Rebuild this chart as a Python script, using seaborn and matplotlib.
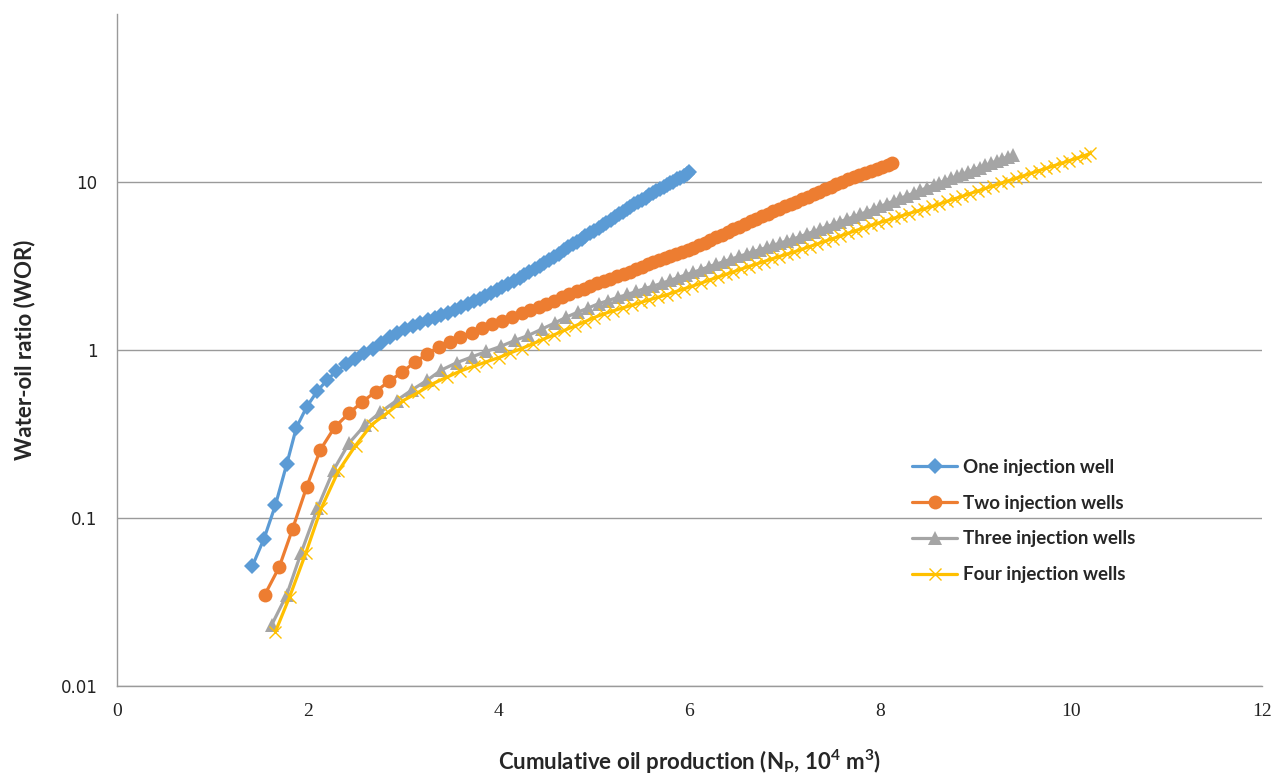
import numpy as np
import pandas as pd
import matplotlib
matplotlib.use('Agg')
import matplotlib.pyplot as plt
from matplotlib.ticker import FixedLocator, FixedFormatter, NullLocator
import seaborn as sns

# cumulative oil production (10^4 m3) and water-oil ratio
x_one = [1.42, 1.54, 1.66, 1.78, 1.88, 1.99, 2.10, 2.20, 2.30, 2.40, 2.49, 2.59, 2.68,
         2.77, 2.86, 2.94, 3.02, 3.10, 3.18, 3.26, 3.33, 3.40, 3.47, 3.54, 3.61, 3.68,
         3.74, 3.80, 3.86, 3.92, 3.98, 4.04, 4.10, 4.16, 4.22, 4.27, 4.32, 4.38, 4.43,
         4.48, 4.53, 4.58, 4.63, 4.68, 4.73, 4.78, 4.82, 4.87, 4.91, 4.96, 5.00, 5.05,
         5.09, 5.13, 5.18, 5.22, 5.26, 5.30, 5.34, 5.38, 5.42, 5.46, 5.50, 5.54, 5.58,
         5.62, 5.65, 5.69, 5.73, 5.76, 5.80, 5.83, 5.87, 5.90, 5.94, 5.97, 6.00]
wor_one = [0.052, 0.075, 0.119, 0.21, 0.345, 0.46, 0.57, 0.66, 0.75, 0.82, 0.89, 0.96, 1.02,
           1.10, 1.19, 1.27, 1.33, 1.39, 1.44, 1.50, 1.55, 1.61, 1.67, 1.74, 1.81, 1.88,
           1.95, 2.02, 2.10, 2.18, 2.28, 2.38, 2.48, 2.59, 2.70, 2.80, 2.91, 3.04, 3.16,
           3.28, 3.41, 3.56, 3.73, 3.94, 4.10, 4.27, 4.42, 4.60, 4.76, 4.95, 5.12, 5.32,
           5.52, 5.72, 5.98, 6.20, 6.43, 6.66, 6.90, 7.12, 7.36, 7.60, 7.85, 8.08, 8.33,
           8.58, 8.78, 9.04, 9.31, 9.55, 9.84, 10.06, 10.35, 10.57, 10.88, 11.12, 11.40]

x_two = [1.55, 1.70, 1.84, 1.99, 2.13, 2.28, 2.43, 2.57, 2.71, 2.85, 2.99, 3.12, 3.25,
         3.37, 3.49, 3.60, 3.72, 3.83, 3.93, 4.04, 4.14, 4.24, 4.33, 4.42, 4.50, 4.58,
         4.66, 4.74, 4.82, 4.89, 4.96, 5.03, 5.10, 5.17, 5.24, 5.31, 5.38, 5.44, 5.50,
         5.56, 5.62, 5.68, 5.74, 5.80, 5.86, 5.92, 5.98, 6.04, 6.10, 6.16, 6.22, 6.28,
         6.34, 6.40, 6.46, 6.52, 6.58, 6.64, 6.70, 6.76, 6.82, 6.88, 6.94, 7.00, 7.06,
         7.12, 7.18, 7.24, 7.30, 7.36, 7.42, 7.48, 7.54, 7.60, 7.66, 7.72, 7.78, 7.84,
         7.90, 7.96, 8.02, 8.08, 8.12]
wor_two = [0.035, 0.051, 0.086, 0.154, 0.254, 0.346, 0.42, 0.49, 0.565, 0.65, 0.74, 0.845, 0.946,
           1.04, 1.12, 1.20, 1.27, 1.35, 1.42, 1.49, 1.58, 1.65, 1.73, 1.81, 1.89, 1.97,
           2.06, 2.15, 2.24, 2.32, 2.40, 2.49, 2.58, 2.66, 2.74, 2.83, 2.92, 3.02, 3.13,
           3.23, 3.33, 3.43, 3.53, 3.63, 3.74, 3.85, 3.96, 4.07, 4.20, 4.35, 4.51, 4.68,
           4.85, 5.04, 5.23, 5.42, 5.63, 5.84, 6.04, 6.25, 6.47, 6.69, 6.92, 7.15, 7.39,
           7.64, 7.91, 8.18, 8.47, 8.77, 9.08, 9.40, 9.70, 10.05, 10.40, 10.72, 11.02, 11.33,
           11.65, 11.97, 12.30, 12.65, 12.91]

x_three = [1.62, 1.78, 1.93, 2.10, 2.27, 2.43, 2.60, 2.76, 2.93, 3.09, 3.25, 3.40, 3.56,
           3.72, 3.87, 4.02, 4.17, 4.31, 4.45, 4.59, 4.71, 4.83, 4.94, 5.05, 5.15, 5.25,
           5.35, 5.44, 5.53, 5.62, 5.71, 5.80, 5.88, 5.96, 6.04, 6.12, 6.20, 6.28, 6.36,
           6.44, 6.52, 6.60, 6.67, 6.74, 6.81, 6.88, 6.95, 7.02, 7.09, 7.16, 7.23, 7.30,
           7.37, 7.44, 7.51, 7.58, 7.65, 7.72, 7.79, 7.86, 7.93, 8.00, 8.07, 8.14, 8.21,
           8.28, 8.35, 8.42, 8.49, 8.56, 8.62, 8.68, 8.74, 8.80, 8.86, 8.92, 8.98, 9.04,
           9.10, 9.16, 9.22, 9.28, 9.34, 9.39]
wor_three = [0.023, 0.035, 0.062, 0.114, 0.193, 0.278, 0.358, 0.426, 0.50, 0.578, 0.66, 0.76, 0.84,
             0.91, 0.98, 1.05, 1.14, 1.22, 1.33, 1.45, 1.57, 1.68, 1.78, 1.89, 1.97, 2.06,
             2.14, 2.23, 2.32, 2.40, 2.50, 2.60, 2.70, 2.80, 2.90, 3.01, 3.13, 3.24, 3.36,
             3.48, 3.61, 3.73, 3.85, 3.96, 4.08, 4.21, 4.33, 4.46, 4.59, 4.73, 4.90, 5.07,
             5.24, 5.42, 5.61, 5.81, 6.00, 6.21, 6.43, 6.65, 6.90, 7.16, 7.43, 7.71, 8.00,
             8.28, 8.59, 8.91, 9.25, 9.59, 9.89, 10.19, 10.50, 10.82, 11.14, 11.48, 11.83, 12.19,
             12.56, 12.94, 13.33, 13.74, 14.16, 14.49]

x_four = [1.66, 1.81, 1.98, 2.14, 2.32, 2.50, 2.67, 2.84, 3.00, 3.16, 3.31, 3.46, 3.60,
          3.74, 3.87, 4.00, 4.12, 4.24, 4.36, 4.47, 4.58, 4.69, 4.80, 4.90, 5.00, 5.10,
          5.20, 5.30, 5.40, 5.49, 5.58, 5.67, 5.76, 5.85, 5.94, 6.03, 6.12, 6.21, 6.30,
          6.38, 6.46, 6.54, 6.62, 6.70, 6.78, 6.86, 6.94, 7.02, 7.10, 7.18, 7.26, 7.34,
          7.42, 7.50, 7.58, 7.66, 7.74, 7.82, 7.90, 7.98, 8.06, 8.14, 8.22, 8.30, 8.38,
          8.46, 8.54, 8.62, 8.70, 8.78, 8.86, 8.94, 9.02, 9.10, 9.18, 9.26, 9.34, 9.42,
          9.50, 9.58, 9.66, 9.74, 9.82, 9.90, 9.98, 10.06, 10.14, 10.20]
wor_four = [0.021, 0.034, 0.062, 0.114, 0.19, 0.27, 0.36, 0.425, 0.50, 0.56, 0.63, 0.69, 0.75,
            0.80, 0.85, 0.90, 0.96, 1.02, 1.09, 1.16, 1.23, 1.31, 1.39, 1.47, 1.56, 1.64,
            1.71, 1.78, 1.85, 1.92, 1.99, 2.06, 2.13, 2.22, 2.31, 2.40, 2.50, 2.61, 2.72,
            2.82, 2.92, 3.03, 3.14, 3.25, 3.36, 3.48, 3.60, 3.72, 3.84, 3.98, 4.13, 4.28,
            4.44, 4.60, 4.77, 4.95, 5.13, 5.32, 5.52, 5.70, 5.89, 6.08, 6.28, 6.49, 6.70,
            6.92, 7.15, 7.40, 7.67, 7.95, 8.23, 8.53, 8.83, 9.15, 9.48, 9.82, 10.15, 10.52,
            10.88, 11.27, 11.67, 12.07, 12.50, 12.94, 13.40, 13.87, 14.36, 14.80]

labels = ['One injection well', 'Two injection wells', 'Three injection wells', 'Four injection wells']
y_ticks = [0.01, 0.1, 1, 10]
y_tick_labels = ['0.01', '0.1', '1', '10']
x_ticks = [0, 2, 4, 6, 8, 10, 12]

sns.set_style('white')
plt.rcParams['font.family'] = ['Lato', 'DejaVu Sans']

fig = plt.figure(figsize=(12.74, 7.77), dpi=100)
ax = fig.add_axes([0.0918, 0.1171, 0.8988, 0.8649])

series = [
    (x_one, wor_one, '#5B9BD5', 'D', 8),
    (x_two, wor_two, '#ED7D31', 'o', 10),
    (x_three, wor_three, '#A5A5A5', '^', 10),
    (x_four, wor_four, '#FFC000', 'x', 8),
]
for (xs, ys, col, mk, ms), lab in zip(series, labels):
    df = pd.DataFrame({'Np': xs, 'WOR': ys})
    sns.lineplot(data=df, x='Np', y='WOR', ax=ax, color=col, marker=mk,
                 markersize=ms, markeredgecolor=col, markeredgewidth=1.0 if mk == 'x' else 0,
                 linewidth=2.3, sort=False, estimator=None, label=lab)

ax.set_yscale('log')
ax.set_ylim(0.01, 100)
ax.set_xlim(0, 12)
ax.yaxis.set_major_locator(FixedLocator(y_ticks))
ax.yaxis.set_major_formatter(FixedFormatter(y_tick_labels))
ax.yaxis.set_minor_locator(NullLocator())
ax.set_xticks(x_ticks)
ax.set_xticklabels([str(v) for v in x_ticks], fontfamily='Liberation Serif', fontsize=14)
for t in ax.get_yticklabels():
    t.set_fontfamily('DejaVu Sans')
    t.set_fontsize(12)
ax.tick_params(axis='both', length=0, pad=12, colors='#222222')
ax.tick_params(axis='y', pad=14)

ax.grid(axis='y', color='#9a9a9a', linewidth=1.0)
ax.grid(axis='x', visible=False)
for s in ['top', 'right']:
    ax.spines[s].set_visible(False)
for s in ['left', 'bottom']:
    ax.spines[s].set_color('#9a9a9a')
    ax.spines[s].set_linewidth(1.0)

ax.set_xlabel('Cumulative oil production (N$_\\mathregular{P}$, 10$^\\mathregular{4}$ m$^\\mathregular{3}$)',
              fontsize=16, fontweight='bold', labelpad=20)
ax.set_ylabel('Water-oil ratio (WOR)', fontsize=16, fontweight='bold', labelpad=18)

leg = ax.legend(loc='upper left', bbox_to_anchor=(0.68, 0.363), frameon=False,
                prop={'weight': 'bold', 'size': 13.5}, handlelength=2.4,
                handletextpad=0.3, labelspacing=1.0)

fig.savefig('out.png', dpi=100)
